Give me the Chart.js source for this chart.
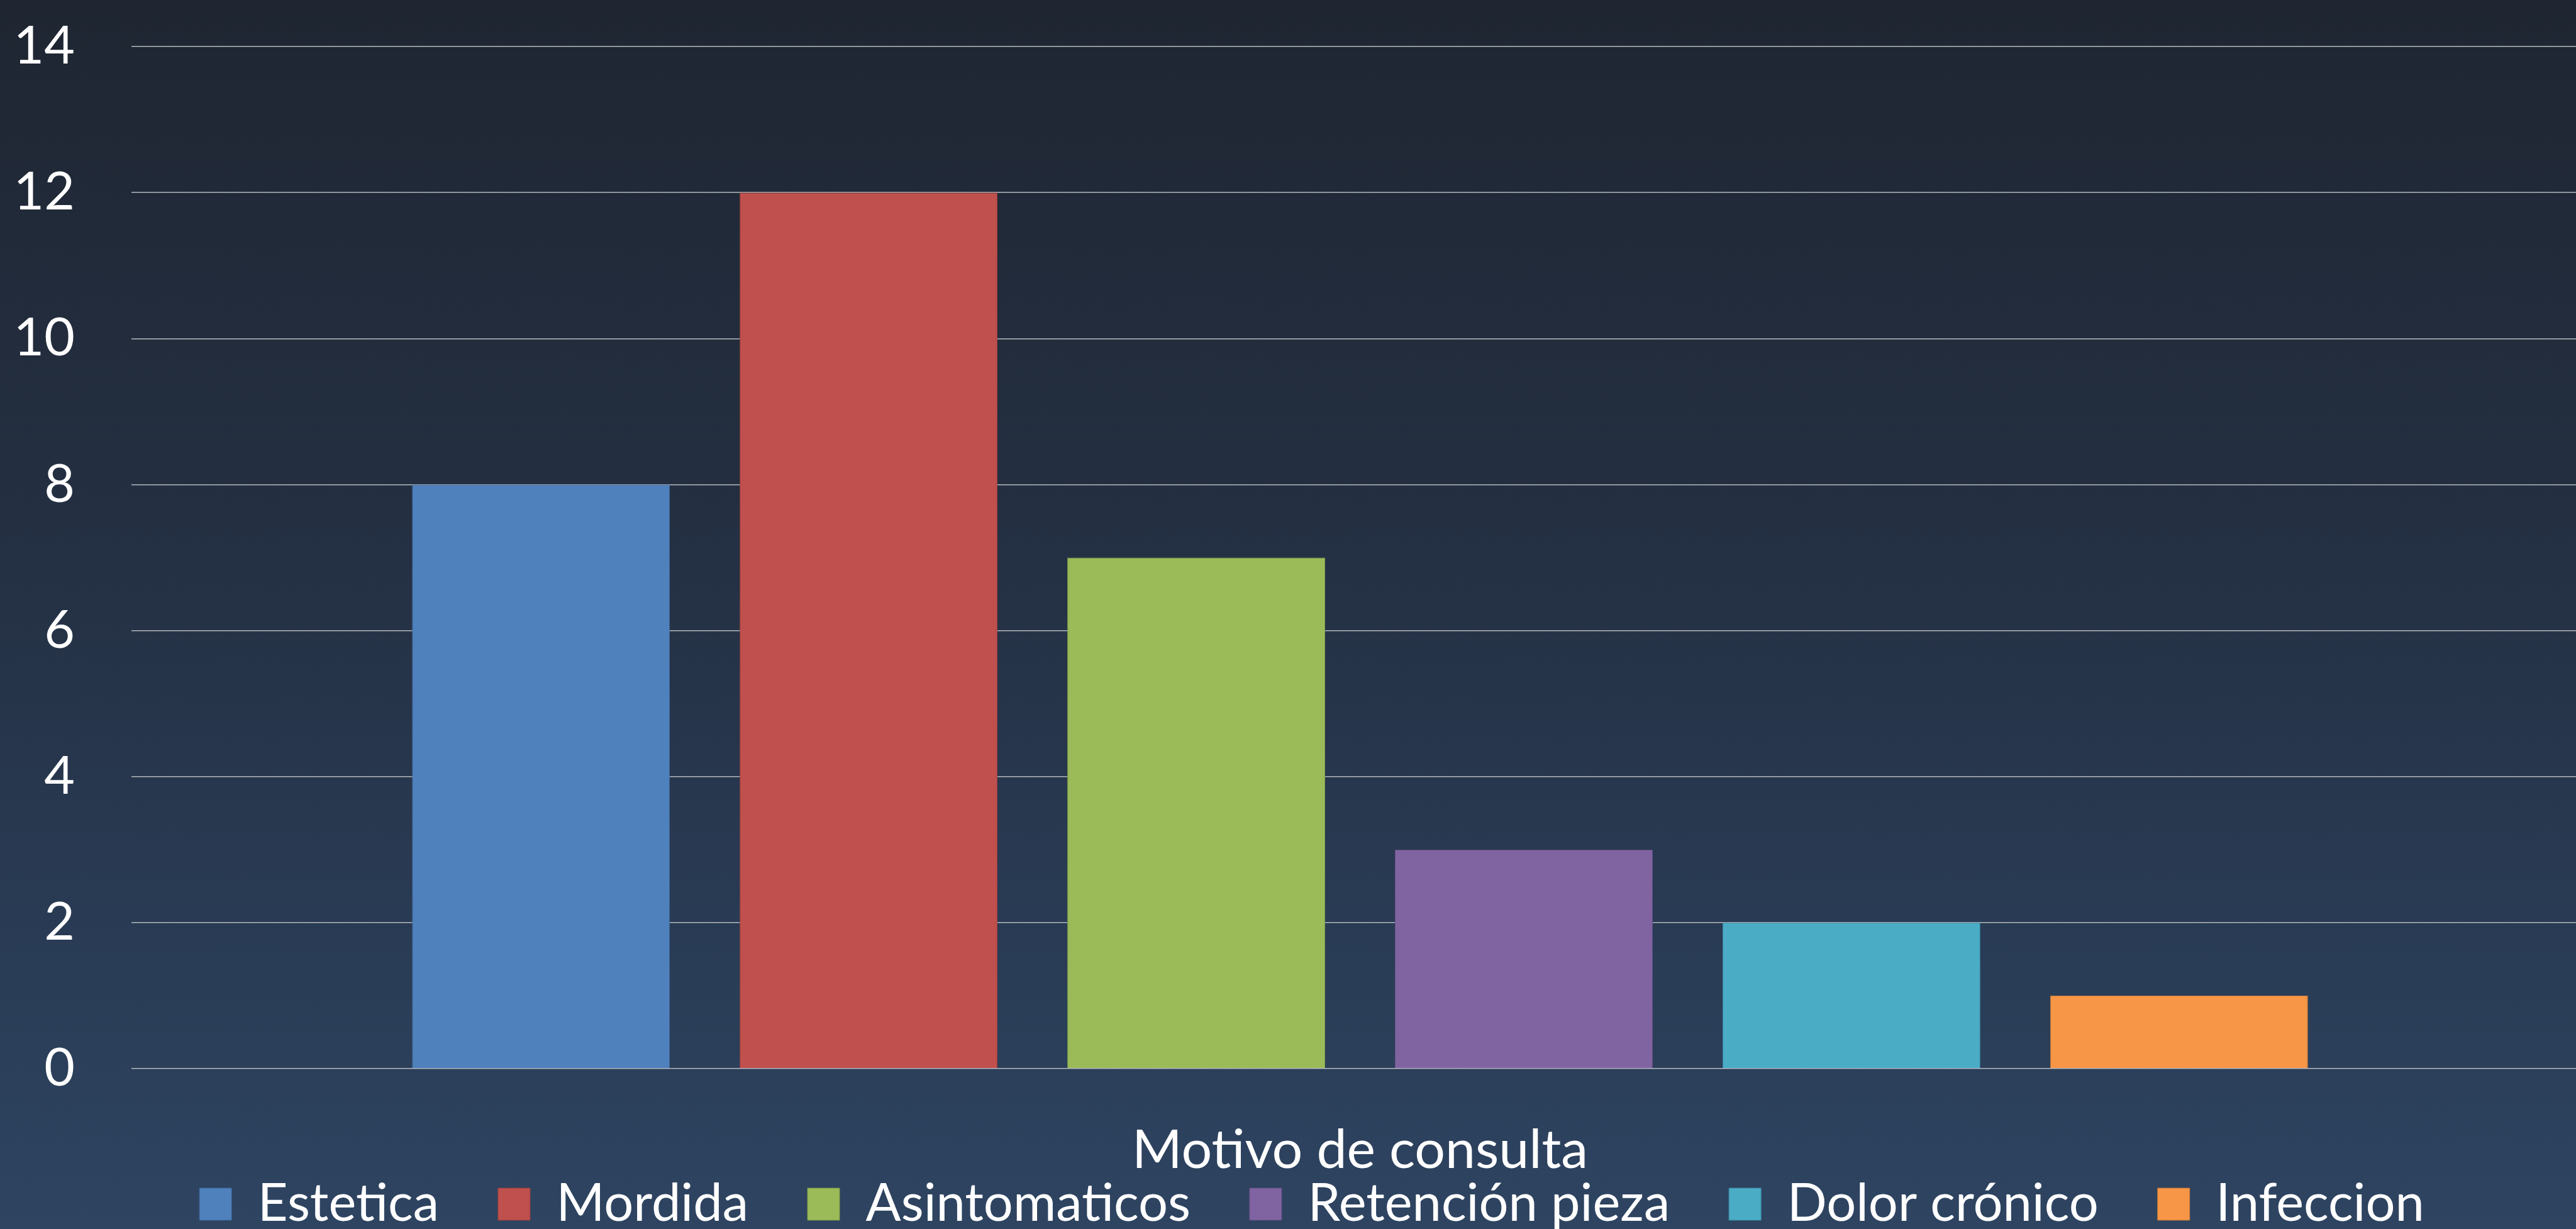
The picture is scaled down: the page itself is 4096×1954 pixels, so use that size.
<!DOCTYPE html>
<html>
<head>
<meta charset="utf-8">
<script src="https://cdn.jsdelivr.net/npm/chart.js@4/dist/chart.umd.min.js"></script>
<style>
  html, body { margin: 0; padding: 0; overflow: hidden; }
  body { width: 4096px; height: 1954px; background: linear-gradient(to bottom, #1f2632 0%, #243043 45%, #2a3d57 80%, #2e4461 100%); }
  #wrap { position: relative; width: 4096px; height: 1954px; overflow: hidden; }
  canvas { display: block; position: absolute; left: 0; top: 0; }
</style>
</head>
<body>
<div id="wrap"><canvas id="c" width="4116" height="1966"></canvas></div>
<script>
const categories = ['Motivo de consulta'];
const seriesNames = ['Estetica', 'Mordida', 'Asintomaticos', 'Retención pieza', 'Dolor crónico', 'Infeccion'];
const seriesValues = [8, 12, 7, 3, 2, 1];
const seriesColors = ['#4f81bd', '#c0504d', '#9bbb59', '#8064a2', '#4bacc6', '#f79646'];
const seriesBorders = ['#41689a', '#9d413f', '#7f994a', '#695185', '#3d8da3', '#cb7b3a'];
const yTicks = [0, 2, 4, 6, 8, 10, 12, 14];

const FONT = 'Lato, Carlito, "Open Sans", sans-serif';

const datasets = seriesNames.map((name, i) => ({
  label: name,
  data: [seriesValues[i]],
  backgroundColor: seriesColors[i],
  borderColor: seriesBorders[i],
  borderWidth: 1,
  borderSkipped: 'start',
  barPercentage: 0.787,
  categoryPercentage: 0.8
}));

const shiftLegend = {
  id: 'shiftLegend',
  afterLayout(chart) {
    if (chart.legend) { chart.legend.left += 28; chart.legend.right += 28; }
  }
};

new Chart(document.getElementById('c'), {
  type: 'bar',
  data: { labels: categories, datasets },
  plugins: [shiftLegend],
  options: {
    responsive: false,
    devicePixelRatio: 1,
    animation: false,
    layout: { padding: { top: 74, left: 0, right: 0, bottom: 0 } },
    plugins: {
      tooltip: { enabled: false },
      legend: {
        display: true,
        position: 'bottom',
        labels: {
          color: '#ffffff',
          font: { family: FONT, size: 83 },
          boxWidth: 51,
          boxHeight: 51,
          padding: 94
        }
      }
    },
    scales: {
      x: {
        grid: { display: false },
        border: { display: false },
        ticks: { color: '#ffffff', font: { family: FONT, size: 86 }, padding: 71, maxRotation: 0 },
        afterFit: (s) => { s.height = 80; s._computeLabelArea = () => undefined; }
      },
      y: {
        min: yTicks[0],
        max: yTicks[yTicks.length - 1],
        afterBuildTicks: (s) => { s.ticks = yTicks.map(v => ({ value: v })); },
        grid: { color: '#b4b8bd', lineWidth: 1.5, drawTicks: false },
        border: { display: false },
        ticks: { color: '#ffffff', font: { family: FONT, size: 84 }, padding: 90 },
        afterFit: (s) => { s.width = 209; s.paddingTop = 0; s.paddingBottom = 0; }
      }
    }
  }
});
</script>
</body>
</html>
